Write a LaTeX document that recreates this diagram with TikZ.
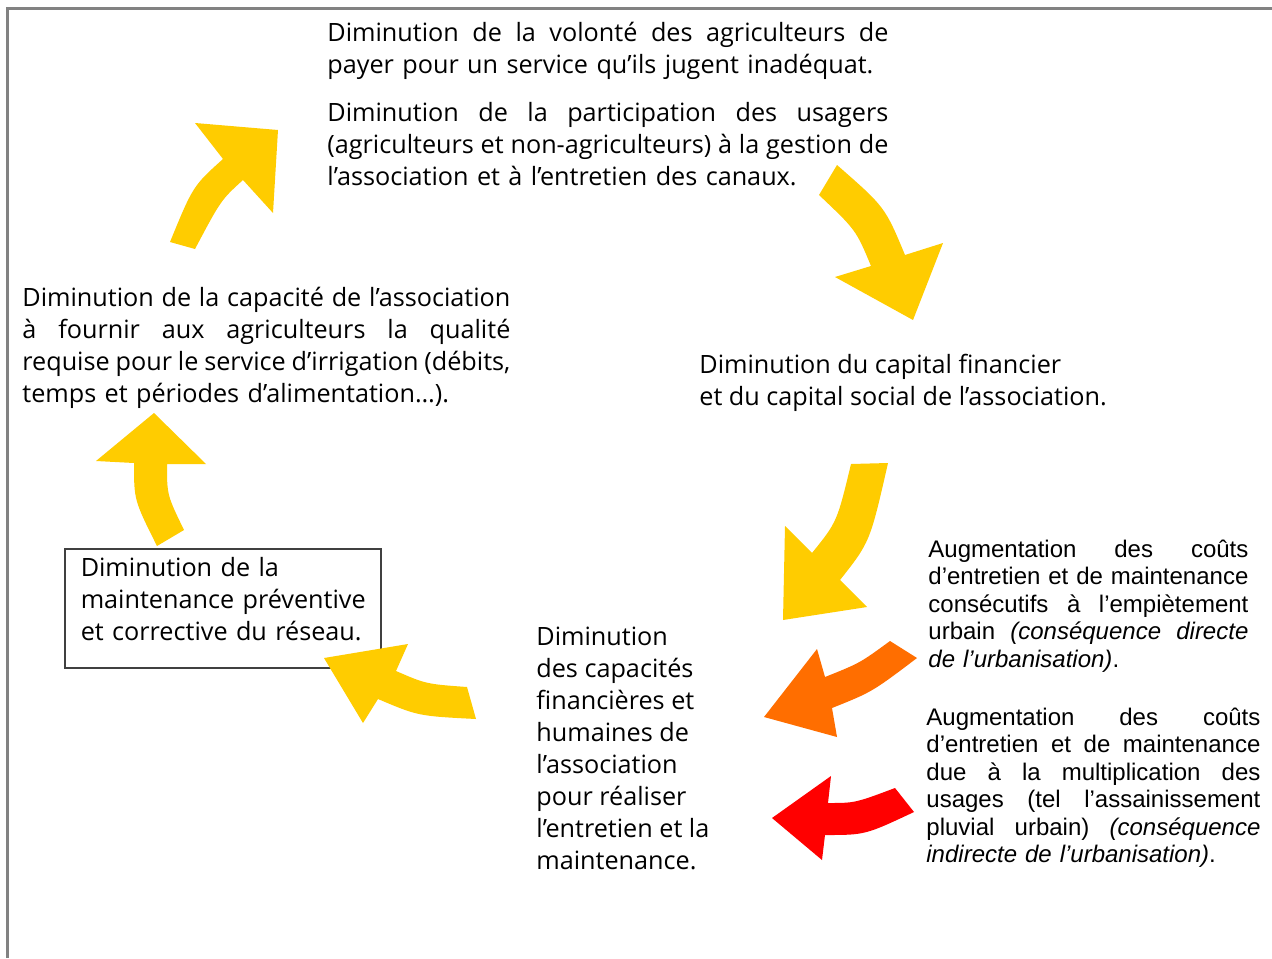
\documentclass[tikz,border=0pt]{standalone}
\usepackage{fontspec}
\newfontfamily\arialf{Liberation Sans}
\newfontfamily\optf[Ligatures=NoCommon]{Open Sans}
\newcommand\fst{\rule{0pt}{13pt}}
\newcommand\astrut{\rule{0pt}{12pt}}
\newcommand\ind{\hspace*{8pt}}
\newcommand\jl[2]{\makebox[#1][s]{\spaceskip=0pt\xspaceskip=0pt #2}\\}
\definecolor{ayellow}{RGB}{255,204,0}
\definecolor{aorange}{RGB}{255,110,0}
\definecolor{ared}{RGB}{255,0,0}
\definecolor{framegray}{RGB}{130,130,130}
\begin{document}
\begin{tikzpicture}[x=0.5pt,y=-0.5pt,
  txt/.style={anchor=north west, inner sep=0pt, align=left, font=\optf\fontsize{12.6}{16}\selectfont},
  atxt/.style={anchor=north west, inner sep=0pt, align=left, font=\arialf\fontsize{12}{13.75}\selectfont},
  yarrow/.style={fill=ayellow},
  oarrow/.style={fill=aorange},
  rarrow/.style={fill=ared}]
\useasboundingbox (0,0) rectangle (1272,958);
\fill[white] (0,0) rectangle (1272,958);
\draw[framegray, line width=1.5pt] (7,958) -- (7,8) -- (1272,8);

% texts
\node[txt, text width=280.5pt] (top1) at (327,15) {\fst\jl{280.5pt}{Diminution de la volonté des agriculteurs de}payer pour un service qu’ils jugent inadéquat.};
\node[txt, text width=280.5pt] (top2) at (327,95) {\fst\jl{280.5pt}{Diminution de la participation des usagers}\jl{280.5pt}{(agriculteurs et non-agriculteurs) à la gestion de}l’association et à l’entretien des canaux.};
\node[txt, text width=244pt] (left) at (22,280) {\fst\jl{244pt}{Diminution de la capacité de l’association}\jl{244pt}{à fournir aux agriculteurs la qualité}\jl{244pt}{requise pour le service d’irrigation (débits,}temps et périodes d’alimentation…).};
\node[txt] (capital) at (699,347) {\fst Diminution du capital financier\\et du capital social de l’association.};
\node[txt, draw=black!75, line width=0.75pt, text width=158pt, inner xsep=0pt, inner ysep=0pt] (maint) at (64,548) {\hyphenpenalty=10000\ind\rule{0pt}{14pt}Diminution de la\\\ind maintenance préventive\\\ind et corrective du réseau.\rule[-13.5pt]{0pt}{13.5pt}};
\node[txt] (capac) at (536,619) {\fst Diminution\\des capacités\\financières et\\humaines de\\l’association\\pour réaliser\\l’entretien et la\\maintenance.};
\node[atxt, text width=160pt] (urb1) at (928,533) {\astrut\jl{160pt}{Augmentation des coûts}\jl{160pt}{d’entretien et de maintenance}\jl{160pt}{consécutifs à l’empiètement}\jl{160pt}{urbain \textit{(conséquence directe}}\textit{de l’urbanisation)}.};
\node[atxt, text width=167pt] (urb2) at (926,701) {\astrut\jl{167pt}{Augmentation des coûts}\jl{167pt}{d’entretien et de maintenance}\jl{167pt}{due à la multiplication des}\jl{167pt}{usages (tel l’assainissement}\jl{167pt}{pluvial urbain) \textit{(conséquence}}\textit{indirecte de l’urbanisation)}.};

% arrows
\fill[yarrow] (170,242) .. controls (193,186) .. (223,159) -- (195,123) -- (278,130) -- (273,213) -- (243,180) .. controls (221,200) .. (195,249) -- cycle;
\fill[yarrow] (837,165) .. controls (885,207) .. (905,255) -- (943,243) -- (913,320) -- (835,277) -- (871,266) .. controls (856,230) .. (819,195) -- cycle;
\fill[yarrow] (888,463) .. controls (870,542) .. (840,580) -- (867,607) -- (783,620) -- (785,526) -- (812,553) .. controls (837,522) .. (851,464) -- cycle;
\fill[oarrow] (890,641) .. controls (860,663) .. (825,677) -- (817,649) -- (764,717) -- (837,737) -- (832,708) .. controls (872,692) .. (917,658) -- cycle;
\fill[rarrow] (895,788) .. controls (855,803) .. (828,803) -- (831,776) -- (772,818) -- (822,860) -- (825,835) .. controls (865,835) .. (914,812) -- cycle;
\fill[yarrow] (467,687) .. controls (426,684) .. (396,671) -- (408,644) -- (324,658) -- (363,723) -- (378,699) .. controls (418,716) .. (476,719) -- cycle;
\fill[yarrow] (157,546) .. controls (134,500) .. (134,463) -- (96,461) -- (154,413) -- (206,464) -- (167,464) .. controls (167,495) .. (184,530) -- cycle;
\end{tikzpicture}
\end{document}
